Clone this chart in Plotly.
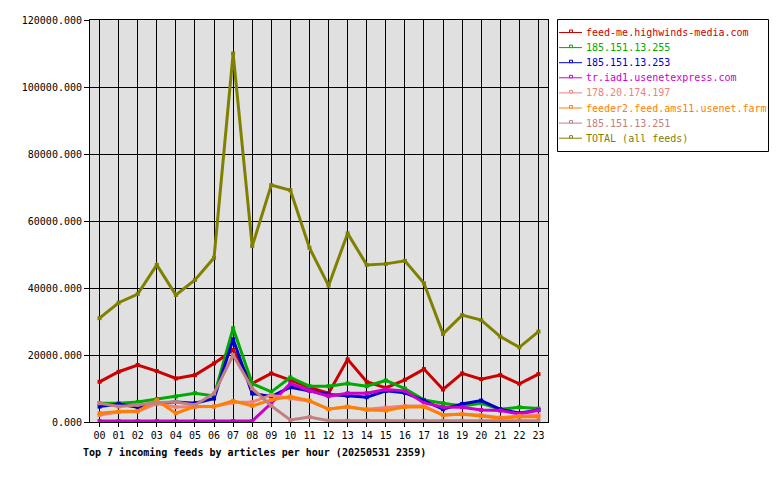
import plotly.graph_objects as go

hours = ["%02d" % h for h in range(24)]

names = [
    "feed-me.highwinds-media.com",
    "185.151.13.255",
    "185.151.13.253",
    "tr.iad1.usenetexpress.com",
    "178.20.174.197",
    "feeder2.feed.ams11.usenet.farm",
    "185.151.13.251",
    "TOTAL (all feeds)",
]
colors = ["#cc0000", "#00aa00", "#0000cc", "#cc00cc", "#f08080", "#ff8000", "#c08080", "#808000"]

highwinds = [12000, 15000, 17000, 15200, 13000, 14000, 17500, 21500, 11500, 14500, 12500, 10300,
             8600, 18700, 12000, 10200, 12600, 15800, 9700, 14500, 12800, 14000, 11400, 14300]
ip255 = [5600, 5600, 6000, 6800, 7600, 8600, 7800, 28000, 11500, 9000, 13300, 10700,
         10700, 11500, 10700, 12400, 10000, 6600, 5600, 4800, 5600, 3800, 4400, 4000]
ip253 = [4600, 5400, 4400, 5600, 6000, 5600, 7000, 24700, 8500, 7600, 10400, 9400,
         8200, 7800, 7400, 9300, 8700, 6400, 3800, 5400, 6400, 3800, 2600, 3600]
usenetexpress = [300, 300, 300, 300, 300, 300, 300, 300, 300, 5600, 11500, 9400,
                 7700, 8600, 8600, 9700, 9300, 5700, 4500, 4400, 3600, 3400, 2400, 3500]
ip197 = [2100, 3000, 3100, 5500, 4500, 4500, 4600, 5800, 6000, 8000, 7000, 6200,
         3900, 4500, 3800, 4300, 4800, 4800, 2000, 2400, 2000, 1300, 1800, 2000]
amsfarm = [2600, 3100, 3300, 6500, 2600, 4600, 4600, 6300, 4800, 6600, 7600, 6400,
           3800, 4600, 3600, 3400, 4500, 4500, 2100, 2300, 1800, 1100, 1600, 1600]
ip251 = [5600, 4600, 5100, 5800, 6000, 5100, 8500, 20000, 10000, 4800, 600, 1500,
         400, 400, 400, 400, 400, 400, 400, 400, 400, 400, 400, 400]
total = [31000, 35600, 38200, 46900, 37900, 42400, 49000, 110000, 52500, 70700, 69200, 52000,
         40700, 56300, 46900, 47200, 48100, 41400, 26300, 31900, 30400, 25500, 22300, 27000]

series = [highwinds, ip255, ip253, usenetexpress, ip197, amsfarm, ip251, total]

MONO = "DejaVu Sans Mono"

fig = go.Figure()
for name, col, vals in zip(names, colors, series):
    fig.add_trace(go.Scatter(
        x=hours, y=vals, name=name, mode="lines+markers",
        line=dict(color=col, width=3),
        marker=dict(color=col, size=4, symbol="square"),
    ))

# plot area in pixels
L, R, T, B = 90, 548, 20, 422
def px(x):
    return (x - L) / (R - L)
def py(y):
    return (B - y) / (B - T)

shapes = [dict(type="rect", xref="paper", yref="paper",
               x0=px(557.5), x1=px(768.5), y0=py(19.5), y1=py(151.5),
               line=dict(color="black", width=1), fillcolor="white", layer="above")]
annotations = []
for i, (name, col) in enumerate(zip(names, colors)):
    yy = 32.5 + i * 15.1
    shapes.append(dict(type="line", xref="paper", yref="paper",
                       x0=px(559), x1=px(582), y0=py(yy), y1=py(yy),
                       line=dict(color=col, width=1), layer="above"))
    shapes.append(dict(type="rect", xref="paper", yref="paper",
                       x0=px(569.5), x1=px(572.5), y0=py(yy - 2.5), y1=py(yy),
                       line=dict(color=col, width=1), fillcolor="white", layer="above"))
    annotations.append(dict(xref="paper", yref="paper", x=px(584), y=py(yy),
                            xanchor="left", yanchor="middle", showarrow=False,
                            text=name, font=dict(family=MONO, size=10, color=col)))

fig.update_layout(
    width=780, height=480,
    margin=dict(l=L, r=780 - R, t=T, b=480 - B),
    paper_bgcolor="white", plot_bgcolor="#e0e0e0",
    showlegend=False,
    font=dict(family=MONO, size=10, color="black"),
    title=dict(text="<b>Top 7 incoming feeds by articles per hour (20250531 2359)</b>",
               x=83 / 780, xref="container", xanchor="left",
               y=1 - 452 / 480, yref="container", yanchor="middle",
               font=dict(family=MONO, size=10, color="black")),
    xaxis=dict(type="category", range=[-0.5, 23.5], showgrid=True, gridcolor="black",
               gridwidth=1, ticks="outside", ticklen=4, tickcolor="black",
               showline=True, linecolor="black", linewidth=1, mirror=True,
               zeroline=False, tickfont=dict(family=MONO, size=10)),
    yaxis=dict(range=[0, 120000], dtick=20000, tickformat=".3f", showgrid=True,
               gridcolor="black", gridwidth=1, ticks="outside", ticklen=5,
               tickcolor="black", showline=True, linecolor="black", linewidth=1,
               mirror=True, zeroline=False, tickfont=dict(family=MONO, size=10)),
    shapes=shapes, annotations=annotations,
)

fig.write_html("out.html")
